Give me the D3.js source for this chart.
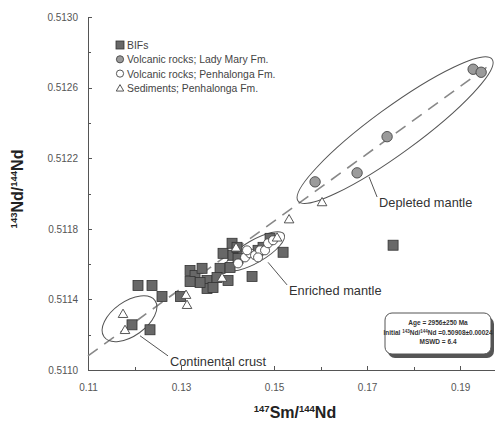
<!DOCTYPE html>
<html lang="en">
  <head>
    <meta charset="utf-8">
    <title>Sm-Nd isochron</title>
    <script type="text/javascript" src="https://cdn.jsdelivr.net/npm/d3@7"></script>
    <style>
      body { margin: 0; background: #fff; }
      svg { font-family: "Liberation Sans", Arial, sans-serif; }
      .axis path, .axis line { fill: none; stroke: #555; shape-rendering: crispEdges; }
      .axis text { font-size: 10px; fill: #555; }
    </style>
  </head>
  <body>
    <script type="text/javascript">

    //Width and height
    var w = 495;
    var h = 423;

    //BIFs [147Sm/144Nd, 143Nd/144Nd]
    var bifs = [
      [0.12075, 0.511479], [0.12376, 0.511479], [0.12591, 0.511416], [0.12990, 0.511416],
      [0.11946, 0.511256], [0.12333, 0.511228], [0.13194, 0.511564], [0.13301, 0.511536],
      [0.13452, 0.511576], [0.13559, 0.511507], [0.13559, 0.511462], [0.13688, 0.511467],
      [0.13839, 0.511576], [0.13903, 0.511661], [0.14011, 0.511507], [0.14097, 0.511718],
      [0.14118, 0.511650], [0.14226, 0.511632], [0.14204, 0.511695], [0.14527, 0.511530],
      [0.15194, 0.511667], [0.14914, 0.511746], [0.14656, 0.511678], [0.14763, 0.511695],
      [0.13774, 0.511524], [0.13409, 0.511496], [0.14054, 0.511581], [0.13194, 0.511501],
      [0.17559, 0.511707]
    ];

    //Volcanic rocks, Lady Mary Fm.
    var ladyMary = [
      [0.19280, 0.512704], [0.19452, 0.512687], [0.17430, 0.512322],
      [0.16785, 0.512117], [0.15882, 0.512066]
    ];

    //Volcanic rocks, Penhalonga Fm.
    var penhalongaVolc = [
      [0.14226, 0.511604], [0.14376, 0.511638], [0.14484, 0.511661], [0.14591, 0.511650],
      [0.14699, 0.511678], [0.14806, 0.511678], [0.14871, 0.511718], [0.14978, 0.511735],
      [0.14419, 0.511678], [0.14656, 0.511638]
    ];

    //Sediments, Penhalonga Fm.
    var sediments = [
      [0.11753, 0.511319], [0.11796, 0.511228], [0.13108, 0.511427], [0.13129, 0.511370],
      [0.14183, 0.511695], [0.13882, 0.511524], [0.15065, 0.511752], [0.15323, 0.511855],
      [0.16032, 0.511952]
    ];

    //Reference line (isochron) end points
    var isochron = [[0.110, 0.5110798], [0.1969, 0.5127379]];

    //Field ellipses: tips of the long axis, and short/long axis ratio
    var fieldNames = ["Depleted mantle", "Enriched mantle", "Continental crust"];
    var fieldTips = [
      [[0.15516, 0.5119573], [0.19688, 0.5127607]],
      [[0.13968, 0.5115755], [0.15215, 0.5117692]],
      [[0.11344, 0.5111880], [0.12441, 0.5113932]]
    ];
    var fieldRatio = [0.19, 0.33, 0.55];
    //Leader lines: from field edge to label
    var leaderFrom = [[0.17043, 0.512094], [0.14871, 0.511610], [0.12118, 0.511194]];
    var leaderTo = [[0.17215, 0.511980], [0.15280, 0.511482], [0.12720, 0.511080]];

    var legendNames = ["BIFs", "Volcanic rocks; Lady Mary Fm.", "Volcanic rocks; Penhalonga Fm.", "Sediments; Penhalonga Fm."];
    var xTicks = [0.11, 0.13, 0.15, 0.17, 0.19];
    var yTicks = [0.5110, 0.5114, 0.5118, 0.5122, 0.5126, 0.5130];

    //Create scale functions
    var xScale = d3.scaleLinear().domain([0.11, 0.1975]).range([88, 495]);
    var yScale = d3.scaleLinear().domain([0.5110, 0.5130]).range([370, 17]);

    var svg = d3.select("body").append("svg")
      .attr("width", w)
      .attr("height", h);

    //Axes (ticks pointing inward)
    var xAxis = d3.axisBottom(xScale).tickValues(xTicks).tickFormat(d3.format(".2f"))
      .tickSizeInner(-4).tickSizeOuter(0).tickPadding(14);
    var xMinor = d3.axisBottom(xScale).tickValues([0.12, 0.14, 0.16, 0.18])
      .tickSizeInner(-3).tickSizeOuter(0).tickFormat("");
    var yAxis = d3.axisLeft(yScale).tickValues(yTicks).tickFormat(d3.format(".4f"))
      .tickSizeInner(-4).tickSizeOuter(0).tickPadding(10);
    var yMinor = d3.axisLeft(yScale).tickValues([0.5112, 0.5116, 0.5120, 0.5124, 0.5128])
      .tickSizeInner(-3).tickSizeOuter(0).tickFormat("");

    svg.append("g").attr("class", "x axis").attr("transform", "translate(0,370)").call(xAxis);
    svg.append("g").attr("class", "x axis").attr("transform", "translate(0,370)").call(xMinor);
    svg.append("g").attr("class", "y axis").attr("transform", "translate(88,0)").call(yAxis);
    svg.append("g").attr("class", "y axis").attr("transform", "translate(88,0)").call(yMinor);

    //Axis titles
    var xt = svg.append("text").attr("x", 295).attr("y", 418)
      .attr("text-anchor", "middle").attr("font-weight", "bold").attr("font-size", 16).attr("fill", "#222");
    xt.append("tspan").attr("font-size", 9.5).attr("dy", -6).text("147");
    xt.append("tspan").attr("dy", 6).text("Sm/");
    xt.append("tspan").attr("font-size", 9.5).attr("dy", -6).text("144");
    xt.append("tspan").attr("dy", 6).text("Nd");

    var yt = svg.append("text").attr("transform", "translate(23,189) rotate(-90)")
      .attr("text-anchor", "middle").attr("font-weight", "bold").attr("font-size", 16).attr("fill", "#222");
    yt.append("tspan").attr("font-size", 9.5).attr("dy", -6).text("143");
    yt.append("tspan").attr("dy", 6).text("Nd/");
    yt.append("tspan").attr("font-size", 9.5).attr("dy", -6).text("144");
    yt.append("tspan").attr("dy", 6).text("Nd");

    //Isochron dashed line
    svg.append("line")
      .attr("x1", xScale(isochron[0][0])).attr("y1", yScale(isochron[0][1]))
      .attr("x2", xScale(isochron[1][0])).attr("y2", yScale(isochron[1][1]))
      .attr("stroke", "#888").attr("stroke-width", 1.6).attr("stroke-dasharray", "12,8");

    //Field ellipses
    fieldTips.forEach(function(t, i) {
      var x1 = xScale(t[0][0]), y1 = yScale(t[0][1]);
      var x2 = xScale(t[1][0]), y2 = yScale(t[1][1]);
      var a = Math.hypot(x2 - x1, y2 - y1) / 2;
      var ang = Math.atan2(y2 - y1, x2 - x1) * 180 / Math.PI;
      svg.append("ellipse")
        .attr("transform", "translate(" + (x1 + x2) / 2 + "," + (y1 + y2) / 2 + ") rotate(" + ang + ")")
        .attr("rx", a).attr("ry", a * fieldRatio[i])
        .attr("fill", "none").attr("stroke", "#555").attr("stroke-width", 1);
    });

    //Square markers (BIFs)
    svg.selectAll("rect.bif")
      .data(bifs)
      .enter()
      .append("rect")
      .attr("class", "bif")
      .attr("x", function(d) { return xScale(d[0]) - 5; })
      .attr("y", function(d) { return yScale(d[1]) - 5; })
      .attr("width", 10).attr("height", 10)
      .attr("fill", "#686868").attr("stroke", "#333").attr("stroke-width", 0.8);

    //Open circles (Penhalonga volcanics)
    svg.selectAll("circle.pv")
      .data(penhalongaVolc)
      .enter()
      .append("circle")
      .attr("class", "pv")
      .attr("cx", function(d) { return xScale(d[0]); })
      .attr("cy", function(d) { return yScale(d[1]); })
      .attr("r", 4.5)
      .attr("fill", "#fff").attr("stroke", "#444").attr("stroke-width", 0.9);

    //Triangles (sediments)
    var tri = d3.symbol().type(d3.symbolTriangle).size(40);
    svg.selectAll("path.sed")
      .data(sediments)
      .enter()
      .append("path")
      .attr("class", "sed")
      .attr("d", tri)
      .attr("transform", function(d) { return "translate(" + xScale(d[0]) + "," + (yScale(d[1]) + 1) + ")"; })
      .attr("fill", "#fff").attr("stroke", "#444").attr("stroke-width", 0.9);

    //Grey circles (Lady Mary)
    svg.selectAll("circle.lm")
      .data(ladyMary)
      .enter()
      .append("circle")
      .attr("class", "lm")
      .attr("cx", function(d) { return xScale(d[0]); })
      .attr("cy", function(d) { return yScale(d[1]); })
      .attr("r", 5.2)
      .attr("fill", "#9b9b9b").attr("stroke", "#444").attr("stroke-width", 0.9);

    //Field labels with leader lines
    fieldNames.forEach(function(name, i) {
      var fx = xScale(leaderFrom[i][0]), fy = yScale(leaderFrom[i][1]);
      var tx = xScale(leaderTo[i][0]), ty = yScale(leaderTo[i][1]);
      svg.append("line").attr("x1", fx).attr("y1", fy).attr("x2", tx).attr("y2", ty)
        .attr("stroke", "#555").attr("stroke-width", 1);
      svg.append("text").attr("x", tx + 2).attr("y", ty + 10)
        .attr("font-size", 12.8).attr("fill", "#333").text(name);
    });

    //Legend
    var leg = svg.append("g").attr("transform", "translate(120,45)");
    legendNames.forEach(function(name, i) {
      var g = leg.append("g").attr("transform", "translate(0," + i * 14.3 + ")");
      if (i === 0) {
        g.append("rect").attr("x", -4).attr("y", -4).attr("width", 8).attr("height", 8)
          .attr("fill", "#686868").attr("stroke", "#333").attr("stroke-width", 0.8);
      } else if (i === 3) {
        g.append("path").attr("d", d3.symbol().type(d3.symbolTriangle).size(24))
          .attr("transform", "translate(0,1)")
          .attr("fill", "#fff").attr("stroke", "#444").attr("stroke-width", 0.9);
      } else {
        g.append("circle").attr("r", 3.6)
          .attr("fill", i === 1 ? "#9b9b9b" : "#fff").attr("stroke", "#444").attr("stroke-width", 0.9);
      }
      g.append("text").attr("x", 7).attr("y", 4).attr("font-size", 10.4).attr("fill", "#444").text(name);
    });

    //Age box
    var box = svg.append("g").attr("transform", "translate(385,313)");
    box.append("rect").attr("x", 3).attr("y", 4).attr("width", 106).attr("height", 41).attr("rx", 7)
      .attr("fill", "#555");
    box.append("rect").attr("width", 106).attr("height", 41).attr("rx", 7)
      .attr("fill", "#fff").attr("stroke", "#555").attr("stroke-width", 1);
    var bt = box.append("g").attr("font-size", 6.5).attr("font-weight", "bold").attr("fill", "#333")
      .attr("text-anchor", "middle");
    bt.append("text").attr("x", 53).attr("y", 12).text("Age = 2956±250 Ma");
    var l2 = bt.append("text").attr("x", 53).attr("y", 22);
    l2.append("tspan").text("Initial ");
    l2.append("tspan").attr("font-size", 4.5).attr("dy", -2).text("143");
    l2.append("tspan").attr("dy", 2).text("Nd/");
    l2.append("tspan").attr("font-size", 4.5).attr("dy", -2).text("144");
    l2.append("tspan").attr("dy", 2).text("Nd =0.50908±0.00024");
    bt.append("text").attr("x", 53).attr("y", 31).text("MSWD = 6.4");

    </script>
  </body>
</html>
